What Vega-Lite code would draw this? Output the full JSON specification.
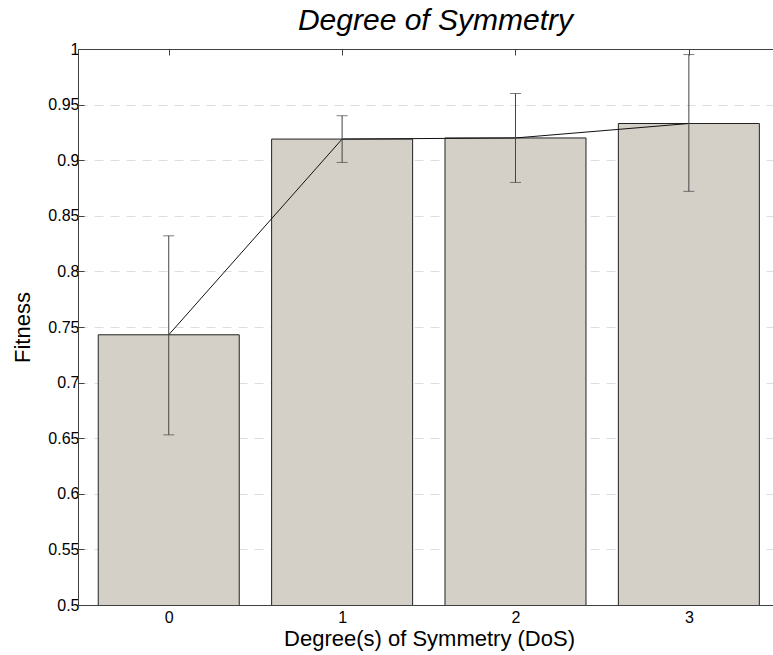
{
  "$schema": "https://vega.github.io/schema/vega-lite/v6.json",
  "width": 695,
  "height": 556,
  "autosize": {"type": "none"},
  "padding": {"left": 78, "top": 49, "right": 0, "bottom": 50},
  "background": "white",
  "config": {
    "view": {"stroke": null},
    "font": "Liberation Sans",
    "axis": {"labelFont": "Liberation Sans", "titleFont": "Liberation Sans", "labelColor": "#000", "titleColor": "#000", "titleFontWeight": "normal", "domainColor": "#404040", "tickColor": "#404040"}
  },
  "title": {"text": "Degree of Symmetry", "fontStyle": "italic", "fontWeight": "normal", "fontSize": 30, "font": "Liberation Sans", "color": "#000", "offset": 5, "dx": 10},
  "data": {"values": [
    {"DoS": 0, "Fitness": 0.743, "lo": 0.653, "hi": 0.832},
    {"DoS": 1, "Fitness": 0.919, "lo": 0.898, "hi": 0.940},
    {"DoS": 2, "Fitness": 0.920, "lo": 0.880, "hi": 0.960},
    {"DoS": 3, "Fitness": 0.933, "lo": 0.872, "hi": 0.995}
  ]},
  "resolve": {"axis": {"x": "independent", "y": "independent"}},
  "layer": [
    {
      "mark": {"type": "bar", "width": 141, "fill": "#d4d0c8", "stroke": "#222", "strokeWidth": 1, "clip": true},
      "encoding": {
        "x": {"field": "DoS", "type": "quantitative", "scale": {"domain": [-0.4946, 3.4565], "nice": false, "zero": false},
          "axis": {"values": [0, 1, 2, 3], "format": "d", "title": "Degree(s) of Symmetry (DoS)", "titleFontSize": 22, "titleX": 351, "labelFontSize": 16, "tickSize": -6, "labelPadding": 10, "titlePadding": 3, "grid": false, "labelFlush": false}},
        "y": {"field": "Fitness", "type": "quantitative", "scale": {"domain": [0.5, 1], "nice": false, "zero": false},
          "axis": {"values": [0.5, 0.55, 0.6, 0.65, 0.7, 0.75, 0.8, 0.85, 0.9, 0.95, 1], "format": ".2~f", "title": "Fitness", "titleFontSize": 22, "labelFontSize": 16, "tickSize": -6, "labelPadding": 5, "titlePadding": 13, "grid": true, "gridColor": "#dddddd", "gridDash": [9, 7], "gridWidth": 1, "labelFlush": false, "zindex": 0}}
      }
    },
    {
      "mark": {"type": "line", "color": "#111", "strokeWidth": 1},
      "encoding": {
        "x": {"field": "DoS", "type": "quantitative", "axis": {"orient": "top", "values": [0, 1, 2, 3], "labels": false, "title": null, "tickSize": -6, "grid": false}},
        "y": {"field": "Fitness", "type": "quantitative", "axis": null}
      }
    },
    {
      "mark": {"type": "rule", "color": "#444", "strokeWidth": 1},
      "encoding": {
        "x": {"field": "DoS", "type": "quantitative", "axis": null},
        "y": {"field": "lo", "type": "quantitative", "axis": null},
        "y2": {"field": "hi"}
      }
    },
    {
      "mark": {"type": "tick", "color": "#444", "orient": "horizontal", "size": 11, "thickness": 1},
      "encoding": {
        "x": {"field": "DoS", "type": "quantitative", "axis": null},
        "y": {"field": "lo", "type": "quantitative", "axis": null}
      }
    },
    {
      "mark": {"type": "tick", "color": "#444", "orient": "horizontal", "size": 11, "thickness": 1},
      "encoding": {
        "x": {"field": "DoS", "type": "quantitative", "axis": null},
        "y": {"field": "hi", "type": "quantitative", "axis": null}
      }
    }
  ]
}
